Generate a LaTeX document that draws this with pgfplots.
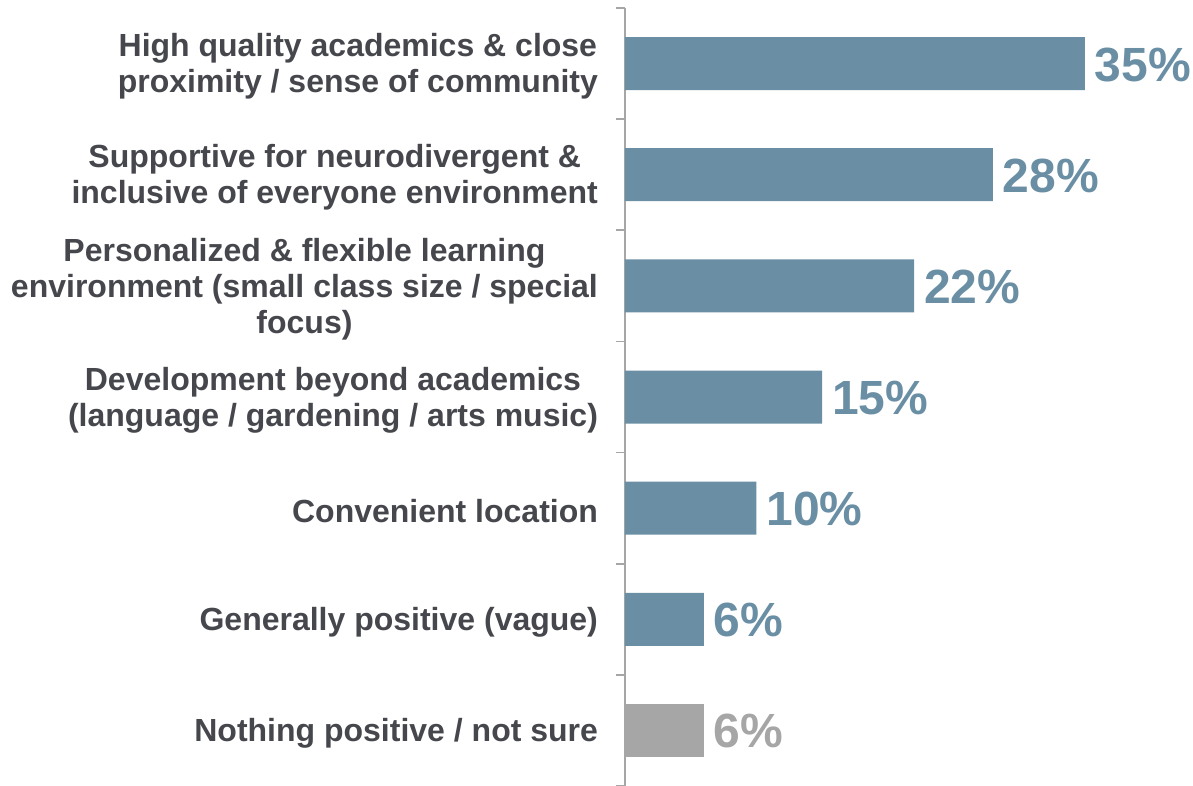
\documentclass[border=0pt]{standalone}
\usepackage{fontspec}
\setmainfont{Liberation Sans}
\usepackage{pgfplots}
\pgfplotsset{compat=1.18}
\definecolor{barblue}{HTML}{6A8FA5}
\definecolor{bargray}{HTML}{A6A6A6}
\definecolor{labeltext}{HTML}{45474C}
\definecolor{axisgray}{HTML}{A6A6A6}

\begin{document}
\begin{tikzpicture}
\begin{axis}[
    xbar,
    bar shift=0pt,
    scale only axis,
    width=262.8pt,
    height=389pt,
    bar width=26.5pt,
    xmin=0, xmax=40,
    ymin=-0.5, ymax=6.5,
    y dir=reverse,
    axis x line=none,
    axis y line*=left,
    axis line style={draw=axisgray, line width=0.8pt},
    ytick={0,1,2,3,4,5,6},
    yticklabels={
        {High quality academics \& close\\proximity / sense of community},
        {Supportive for neurodivergent \&\\inclusive of everyone environment},
        {Personalized \& flexible learning\\environment (small class size / special\\focus)},
        {Development beyond academics\\(language / gardening / arts music)},
        {Convenient location},
        {Generally positive (vague)},
        {Nothing positive / not sure}},
    major tick length=0pt,
    minor ytick={-0.5,0.5,...,6.5},
    minor tick length=4.5pt,
    tick align=outside,
    minor tick style={draw=axisgray, line width=0.8pt},
    y tick label style={font=\fontsize{16}{18}\selectfont\bfseries, text=labeltext, align=center, xshift=-10pt, yshift=-1.5pt},
    /pgf/number format/assume math mode=true,
    point meta=x,
    nodes near coords={\pgfmathprintnumber{\pgfplotspointmeta}\%},
    nodes near coords style={font=\fontsize{24}{28}\selectfont\bfseries, anchor=west, xshift=1.5pt, yshift=-0.5pt},
    clip=false,
]
\addplot+[fill=barblue, draw=none, every node near coord/.append style={text=barblue}]
    coordinates {(35,0) (28,1) (22,2) (15,3) (10,4) (6,5)};
\addplot+[fill=bargray, draw=none, every node near coord/.append style={text=bargray}]
    coordinates {(6,6)};
\end{axis}
\pgfresetboundingbox
\useasboundingbox (-312.5pt,0pt) rectangle (284pt,393pt);
\end{tikzpicture}
\end{document}
